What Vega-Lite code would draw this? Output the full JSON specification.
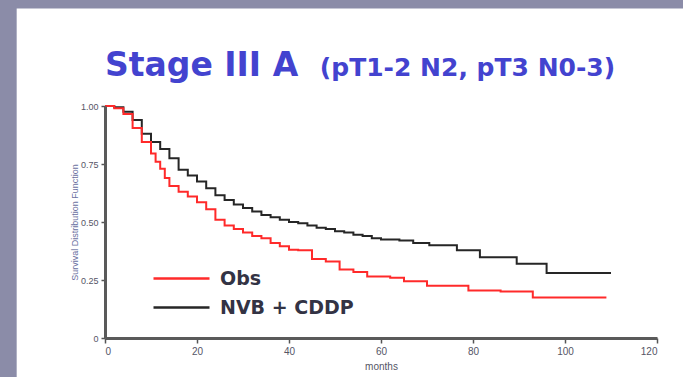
{
  "$schema": "https://vega.github.io/schema/vega-lite/v6.json",
  "width": 552,
  "height": 232,
  "autosize": "none",
  "padding": {"left": 105, "top": 106, "right": 26, "bottom": 39},
  "background": "#8b8ca8",
  "title": {
    "text": "Stage III A",
    "subtitle": "⠀⠀⠀⠀⠀⠀⠀⠀⠀⠀⠀(pT1-2 N2, pT3 N0-3)",
    "anchor": "start",
    "frame": "group",
    "font": "DejaVu Sans",
    "fontSize": 33,
    "fontWeight": 900,
    "color": "#4343cf",
    "subtitleFont": "DejaVu Sans",
    "subtitleFontSize": 25,
    "subtitleFontWeight": "bold",
    "subtitleColor": "#4343cf",
    "subtitlePadding": -27,
    "offset": -74,
    "zindex": 1
  },
  "config": {
    "axis": {"zindex": 1, "grid": false},
    "view": {"stroke": null}
  },
  "layer": [
    {
      "data": {"values": [{}]},
      "mark": {"type": "rect", "color": "white", "clip": false},
      "encoding": {
        "x": {"datum": -19.2, "type": "quantitative"},
        "x2": {"datum": 135},
        "y": {"datum": 1.42, "type": "quantitative"},
        "y2": {"datum": -0.3}
      }
    },
    {
      "data": {
        "values": [
          {"month": 0, "surv": 1.0, "group": "NVB + CDDP"},
          {"month": 2, "surv": 0.995, "group": "NVB + CDDP"},
          {"month": 4, "surv": 0.975, "group": "NVB + CDDP"},
          {"month": 6, "surv": 0.94, "group": "NVB + CDDP"},
          {"month": 8, "surv": 0.88, "group": "NVB + CDDP"},
          {"month": 10, "surv": 0.845, "group": "NVB + CDDP"},
          {"month": 12, "surv": 0.815, "group": "NVB + CDDP"},
          {"month": 14, "surv": 0.775, "group": "NVB + CDDP"},
          {"month": 16, "surv": 0.725, "group": "NVB + CDDP"},
          {"month": 18, "surv": 0.7, "group": "NVB + CDDP"},
          {"month": 20, "surv": 0.675, "group": "NVB + CDDP"},
          {"month": 22, "surv": 0.645, "group": "NVB + CDDP"},
          {"month": 24, "surv": 0.615, "group": "NVB + CDDP"},
          {"month": 26, "surv": 0.595, "group": "NVB + CDDP"},
          {"month": 28, "surv": 0.575, "group": "NVB + CDDP"},
          {"month": 30, "surv": 0.56, "group": "NVB + CDDP"},
          {"month": 32, "surv": 0.545, "group": "NVB + CDDP"},
          {"month": 34, "surv": 0.53, "group": "NVB + CDDP"},
          {"month": 36, "surv": 0.52, "group": "NVB + CDDP"},
          {"month": 38, "surv": 0.51, "group": "NVB + CDDP"},
          {"month": 40, "surv": 0.5, "group": "NVB + CDDP"},
          {"month": 42, "surv": 0.495, "group": "NVB + CDDP"},
          {"month": 44, "surv": 0.485, "group": "NVB + CDDP"},
          {"month": 46, "surv": 0.475, "group": "NVB + CDDP"},
          {"month": 48, "surv": 0.47, "group": "NVB + CDDP"},
          {"month": 50, "surv": 0.46, "group": "NVB + CDDP"},
          {"month": 52, "surv": 0.455, "group": "NVB + CDDP"},
          {"month": 54, "surv": 0.445, "group": "NVB + CDDP"},
          {"month": 56, "surv": 0.44, "group": "NVB + CDDP"},
          {"month": 58, "surv": 0.43, "group": "NVB + CDDP"},
          {"month": 60, "surv": 0.425, "group": "NVB + CDDP"},
          {"month": 64, "surv": 0.42, "group": "NVB + CDDP"},
          {"month": 67, "surv": 0.41, "group": "NVB + CDDP"},
          {"month": 70.5, "surv": 0.4, "group": "NVB + CDDP"},
          {"month": 76.5, "surv": 0.378, "group": "NVB + CDDP"},
          {"month": 81.5, "surv": 0.348, "group": "NVB + CDDP"},
          {"month": 89.5, "surv": 0.32, "group": "NVB + CDDP"},
          {"month": 96, "surv": 0.28, "group": "NVB + CDDP"},
          {"month": 110, "surv": 0.28, "group": "NVB + CDDP"},
          {"month": 0, "surv": 1.0, "group": "Obs"},
          {"month": 2, "surv": 0.99, "group": "Obs"},
          {"month": 4, "surv": 0.965, "group": "Obs"},
          {"month": 6, "surv": 0.905, "group": "Obs"},
          {"month": 8, "surv": 0.845, "group": "Obs"},
          {"month": 10, "surv": 0.795, "group": "Obs"},
          {"month": 11, "surv": 0.76, "group": "Obs"},
          {"month": 12, "surv": 0.73, "group": "Obs"},
          {"month": 13, "surv": 0.69, "group": "Obs"},
          {"month": 14, "surv": 0.655, "group": "Obs"},
          {"month": 16, "surv": 0.63, "group": "Obs"},
          {"month": 18, "surv": 0.61, "group": "Obs"},
          {"month": 20, "surv": 0.585, "group": "Obs"},
          {"month": 22, "surv": 0.555, "group": "Obs"},
          {"month": 24, "surv": 0.51, "group": "Obs"},
          {"month": 26, "surv": 0.485, "group": "Obs"},
          {"month": 28, "surv": 0.47, "group": "Obs"},
          {"month": 30, "surv": 0.455, "group": "Obs"},
          {"month": 32, "surv": 0.44, "group": "Obs"},
          {"month": 34, "surv": 0.43, "group": "Obs"},
          {"month": 36, "surv": 0.41, "group": "Obs"},
          {"month": 38, "surv": 0.395, "group": "Obs"},
          {"month": 40, "surv": 0.38, "group": "Obs"},
          {"month": 42, "surv": 0.378, "group": "Obs"},
          {"month": 45, "surv": 0.34, "group": "Obs"},
          {"month": 48, "surv": 0.33, "group": "Obs"},
          {"month": 51, "surv": 0.295, "group": "Obs"},
          {"month": 54, "surv": 0.285, "group": "Obs"},
          {"month": 57, "surv": 0.265, "group": "Obs"},
          {"month": 62, "surv": 0.26, "group": "Obs"},
          {"month": 65, "surv": 0.245, "group": "Obs"},
          {"month": 70, "surv": 0.225, "group": "Obs"},
          {"month": 79, "surv": 0.205, "group": "Obs"},
          {"month": 86, "surv": 0.2, "group": "Obs"},
          {"month": 93, "surv": 0.175, "group": "Obs"},
          {"month": 109, "surv": 0.175, "group": "Obs"}
        ]
      },
      "mark": {"type": "line", "interpolate": "step-after", "strokeWidth": 2},
      "encoding": {
        "x": {
          "field": "month",
          "type": "quantitative",
          "scale": {"domain": [0, 120], "nice": false, "zero": false},
          "axis": {
            "zindex": 2,
            "title": "months",
            "values": [0, 20, 40, 60, 80, 100, 120],
            "labelFont": "Liberation Sans",
            "labelFontSize": 10,
            "labelColor": "#555566",
            "labelPadding": 3,
            "tickSize": 5,
            "tickColor": "#555555",
            "tickWidth": 1.5,
            "domainColor": "#5a5a5a",
            "domainWidth": 3,
            "titleFont": "Liberation Sans",
            "titleFontSize": 10,
            "titleFontWeight": "normal",
            "titleColor": "#555566",
            "titlePadding": 5
          }
        },
        "y": {
          "field": "surv",
          "type": "quantitative",
          "scale": {"domain": [0, 1], "nice": false, "zero": false},
          "axis": {
            "zindex": 2,
            "title": "Survival Distribution Function",
            "values": [0, 0.25, 0.5, 0.75, 1],
            "labelExpr": "datum.value == 0 ? '0' : format(datum.value, '.2f')",
            "labelFont": "Liberation Sans",
            "labelFontSize": 9,
            "labelColor": "#555566",
            "labelPadding": 3,
            "tickSize": 4,
            "tickColor": "#555555",
            "tickWidth": 1.5,
            "domainColor": "#5a5a5a",
            "domainWidth": 3,
            "titleFont": "Liberation Sans",
            "titleFontSize": 9,
            "titleFontWeight": "normal",
            "titleColor": "#6a70a0",
            "titlePadding": 1
          }
        },
        "color": {
          "field": "group",
          "type": "nominal",
          "scale": {"domain": ["Obs", "NVB + CDDP"], "range": ["#ff2a2a", "#262626"]},
          "legend": {
            "orient": "none",
            "legendX": 47,
            "legendY": 157,
            "title": null,
            "padding": 0,
            "symbolType": "M -1 0 L 3 0",
            "symbolSize": 784,
            "symbolStrokeWidth": 2.5,
            "labelFont": "DejaVu Sans",
            "labelFontSize": 19,
            "labelFontWeight": "bold",
            "labelColor": "#333344",
            "labelOffset": 37,
            "rowPadding": 3
          }
        }
      }
    }
  ]
}
